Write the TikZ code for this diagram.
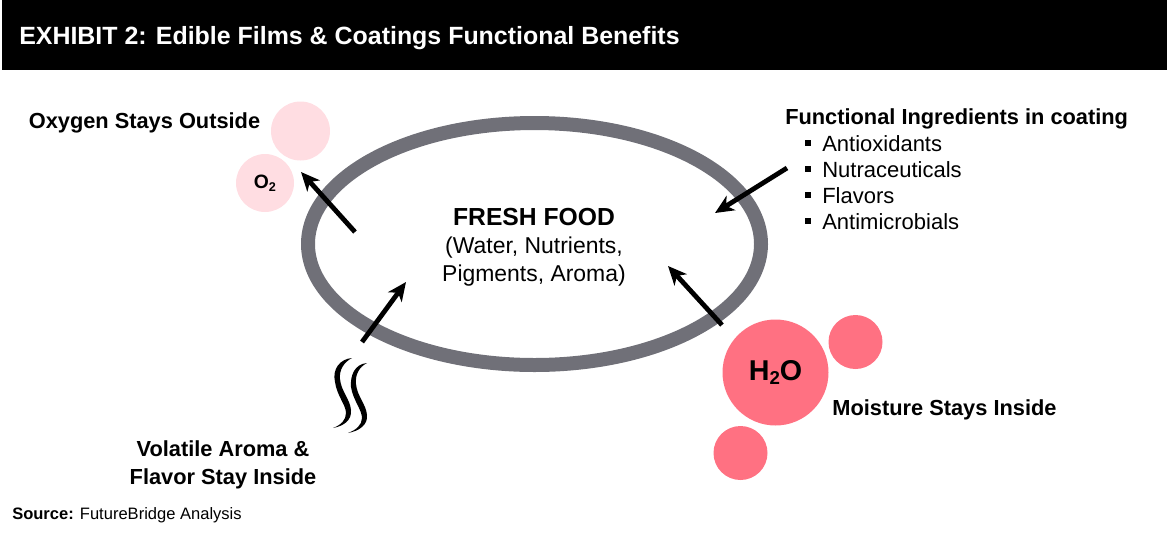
\documentclass[tikz,border=0pt]{standalone}
\usepackage{xcolor}
\usepackage{fontspec}
\setmainfont{Liberation Sans}
\usetikzlibrary{arrows.meta}
\definecolor{filmgray}{RGB}{112,112,120}
\definecolor{palepink}{RGB}{255,221,226}
\definecolor{deeppink}{RGB}{255,113,130}
\tikzset{
    label/.style={font=\fontsize{16.35}{21}\selectfont\bfseries, inner sep=0pt, align=center},
    plain/.style={font=\fontsize{16.5}{19.5}\selectfont, inner sep=0pt, anchor=west},
    push/.style={line width=3.6pt, -{Stealth[length=14pt, width=12.5pt, inset=4pt]}},
    drop/.style={circle, inner sep=0pt, minimum size=#1}
}

\begin{document}
\begin{tikzpicture}[x=0.75pt, y=-0.75pt]
        \useasboundingbox (0, 0) rectangle (1167, 533);
        \fill[black] (2, 0) rectangle (1167, 70);
        \node[font=\fontsize{18.7}{22}\selectfont\bfseries, text=white, inner sep=0pt, anchor=west] (title) at (19, 38) {EXHIBIT 2: Edible Films \& Coatings Functional Benefits};

        \draw[filmgray, line width=10.5pt] (534.5, 244) ellipse [x radius=226.5, y radius=121];

        \node[label, font=\fontsize{18.5}{22}\selectfont\bfseries] (food) at (534, 217) {FRESH FOOD};
        \node[plain, anchor=center, align=center, font=\fontsize{17.2}{21}\selectfont] (foodsub) at (534, 262) {(Water, Nutrients,\\Pigments, Aroma)};

        % oxygen
        \node[drop=59*0.75pt, fill=palepink] (oxtop) at (300.5, 131) {};
        \node[drop=58*0.75pt, fill=palepink, label, font=\fontsize{14.5}{17}\selectfont\bfseries] (oxygen) at (265, 183) {O\raisebox{-0.25ex}{\fontsize{9.5}{11}\selectfont 2}};
        \node[label] (oxlabel) at (144.5, 123) {Oxygen Stays Outside};

        % water
        \node[drop=106*0.75pt, fill=deeppink, label, font=\fontsize{21.5}{25}\selectfont\bfseries] (water) at (775.5, 372.5) {H\raisebox{-0.25ex}{\fontsize{14}{16}\selectfont 2}O};
        \node[drop=54*0.75pt, fill=deeppink] (waterup) at (855.5, 342) {};
        \node[drop=54*0.75pt, fill=deeppink] (waterdown) at (740.5, 453) {};
        \node[label] (waterlabel) at (944.5, 410) {Moisture Stays Inside};

        % coating list
        \node[label, anchor=west] (inglabel) at (785, 119) {Functional Ingredients in coating};
        \foreach \name/\ypos/\ingr in {anti/144/Antioxidants, nutra/170/Nutraceuticals, flav/196/Flavors, micro/222/Antimicrobials} {
            \node[plain] (\name) at (822, \ypos) {\ingr};
            \fill[black] (804.5, \ypos-4.5) rectangle (810.5, \ypos+1.5);
        }

        % aroma
        \fill[black] (352, 358) .. controls (340, 359) and (332, 369) .. (335, 382)
            .. controls (337, 396) and (346, 405) .. (346, 413)
            .. controls (346, 420) and (341, 425) .. (333, 428)
            .. controls (344, 426) and (352, 420) .. (351, 410)
            .. controls (350, 399) and (341, 391) .. (340, 379)
            .. controls (339, 370) and (344, 362) .. (352, 358) -- cycle;
        \fill[black] (367, 363) .. controls (355, 364) and (350, 375) .. (351, 387)
            .. controls (353, 400) and (362, 410) .. (362, 418)
            .. controls (362, 425) and (356, 430) .. (348, 433)
            .. controls (359, 431) and (368, 425) .. (367, 415)
            .. controls (366, 404) and (357, 396) .. (356, 384)
            .. controls (355, 375) and (359, 367) .. (367, 363) -- cycle;
        \node[label] (aromalabel) at (223, 465) {Volatile Aroma \&\\Flavor Stay Inside};
        \node[font=\fontsize{12.4}{15}\selectfont, inner sep=0pt, anchor=west] (source) at (12, 515) {\textbf{Source:} FutureBridge Analysis};

        \coordinate (oxstart) at (355, 232);
        \coordinate (oxend) at (301, 172);
        \coordinate (ingstart) at (787, 168);
        \coordinate (ingend) at (715, 213);
        \coordinate (waterstart) at (722, 325);
        \coordinate (waterend) at (668, 266);
        \coordinate (aromastart) at (362, 342);
        \coordinate (aromaend) at (406, 282);
        \draw[push] (oxstart) -- (oxend);
        \draw[push] (ingstart) -- (ingend);
        \draw[push] (waterstart) -- (waterend);
        \draw[push] (aromastart) -- (aromaend);
    \end{tikzpicture}
\end{document}
